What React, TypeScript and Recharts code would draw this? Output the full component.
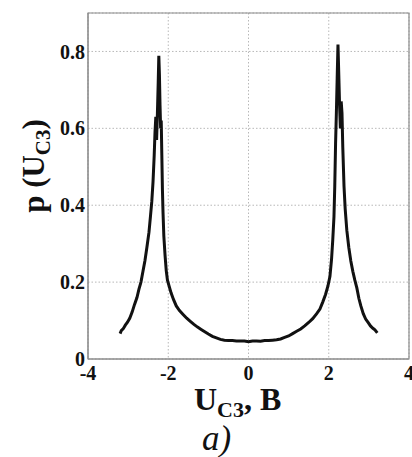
import { LineChart, Line, XAxis, YAxis, CartesianGrid, ReferenceArea } from 'recharts'

const uValues = [
  -3.2, -3.17, -3.12, -3.07, -3.02, -2.96, -2.9, -2.84, -2.78, -2.73, -2.68, -2.63, -2.58, -2.53, -2.48,
  -2.44, -2.41, -2.38, -2.35, -2.33, -2.31, -2.29, -2.27, -2.25, -2.235, -2.22, -2.205, -2.19, -2.175,
  -2.16, -2.145, -2.13, -2.11, -2.08, -2.05, -2.02, -1.98, -1.93, -1.87, -1.8, -1.72, -1.63, -1.54,
  -1.45, -1.36, -1.27, -1.18, -1.09, -1.0, -0.9, -0.8, -0.7, -0.6, -0.5, -0.4, -0.3, -0.2, -0.1, 0,
  0.1, 0.2, 0.3, 0.4, 0.5, 0.6, 0.7, 0.8, 0.9, 1.0, 1.1, 1.2, 1.3, 1.4, 1.5, 1.6, 1.7, 1.78, 1.85,
  1.92, 1.98, 2.03, 2.07, 2.1, 2.13, 2.15, 2.17, 2.19, 2.21, 2.23, 2.25, 2.27, 2.29, 2.31, 2.33, 2.35,
  2.38, 2.41, 2.45, 2.5, 2.55, 2.6, 2.65, 2.7, 2.75, 2.8, 2.86, 2.92, 2.98, 3.04, 3.1, 3.15, 3.21,
]

const pValues = [
  0.066, 0.074, 0.079, 0.088, 0.095, 0.106, 0.122, 0.142, 0.16, 0.182, 0.2, 0.228, 0.256, 0.292, 0.33,
  0.375, 0.41, 0.46, 0.53, 0.59, 0.63, 0.57, 0.64, 0.72, 0.789, 0.74, 0.66, 0.6, 0.62,
  0.53, 0.44, 0.38, 0.32, 0.27, 0.23, 0.205, 0.19, 0.172, 0.155, 0.138, 0.126, 0.116, 0.106,
  0.098, 0.09, 0.083, 0.077, 0.071, 0.065, 0.059, 0.055, 0.051, 0.049, 0.048, 0.048, 0.047, 0.047, 0.047, 0.045,
  0.047, 0.047, 0.046, 0.048, 0.048, 0.049, 0.05, 0.052, 0.056, 0.06, 0.066, 0.072, 0.078, 0.086, 0.095, 0.105, 0.118, 0.13, 0.148,
  0.168, 0.19, 0.215, 0.26, 0.31, 0.37, 0.45, 0.56, 0.64, 0.73, 0.818, 0.74, 0.66, 0.6, 0.67, 0.64, 0.55,
  0.45, 0.39, 0.335, 0.29, 0.255, 0.228, 0.205, 0.185, 0.158, 0.138, 0.118, 0.104, 0.095, 0.086, 0.08, 0.076, 0.068,
]

const xTicks = [-4, -2, 0, 2, 4]
const yTicks = [0, 0.2, 0.4, 0.6, 0.8]

const data = uValues.map((u, i) => ({ u, p: pValues[i] }))

const serif = '"Liberation Serif", "Times New Roman", serif'
const tickStyle = { fontSize: 20, fontWeight: 700, fill: '#111', fontFamily: serif }

export default function App() {
  return (
    <div style={{ position: 'absolute', left: 0, top: 0, width: 412, height: 457, background: '#fff' }}>
      <LineChart width={412} height={457} data={data} margin={{ top: 13, right: 3, left: 28, bottom: 68 }}>
        <CartesianGrid stroke="#b8b8b8" strokeDasharray="1.5 2" />
        <XAxis
          dataKey="u" type="number" domain={[-4, 4]} ticks={xTicks} height={30}
          tickLine={false} tickSize={0} tickMargin={7} axisLine={{ stroke: '#8c8c8c' }}
          tick={tickStyle} interval={0}
        />
        <YAxis
          type="number" domain={[0, 0.9]} ticks={yTicks} width={60}
          tickLine={false} tickSize={0} tickMargin={3} axisLine={{ stroke: '#8c8c8c' }}
          tick={tickStyle} tickFormatter={(v: number) => String(v)}
        />
        <ReferenceArea x1={-4} x2={4} y1={0} y2={0.9} fill="none" stroke="#8c8c8c" strokeWidth={1.2} />
        <Line dataKey="p" type="linear" stroke="#111" strokeWidth={3} dot={false} isAnimationActive={false} />
      </LineChart>
      <svg width={412} height={457} style={{ position: 'absolute', left: 0, top: 0, pointerEvents: 'none' }}>
        <text transform="translate(44,166) rotate(-90)" textAnchor="middle" fontFamily={serif} fontWeight={700} fontSize={31} fill="#111">
          p (U<tspan fontSize={21} dy={6}>C3</tspan><tspan dy={-6}>)</tspan>
        </text>
        <text x={194} y={410} fontFamily={serif} fontWeight={700} fontSize={32} fill="#111">
          U<tspan fontSize={22} dy={7}>C3</tspan><tspan dy={-7}>, B</tspan>
        </text>
        <text x={202} y={450} fontFamily={serif} fontStyle="italic" fontSize={35} fill="#111">a)</text>
      </svg>
    </div>
  )
}
